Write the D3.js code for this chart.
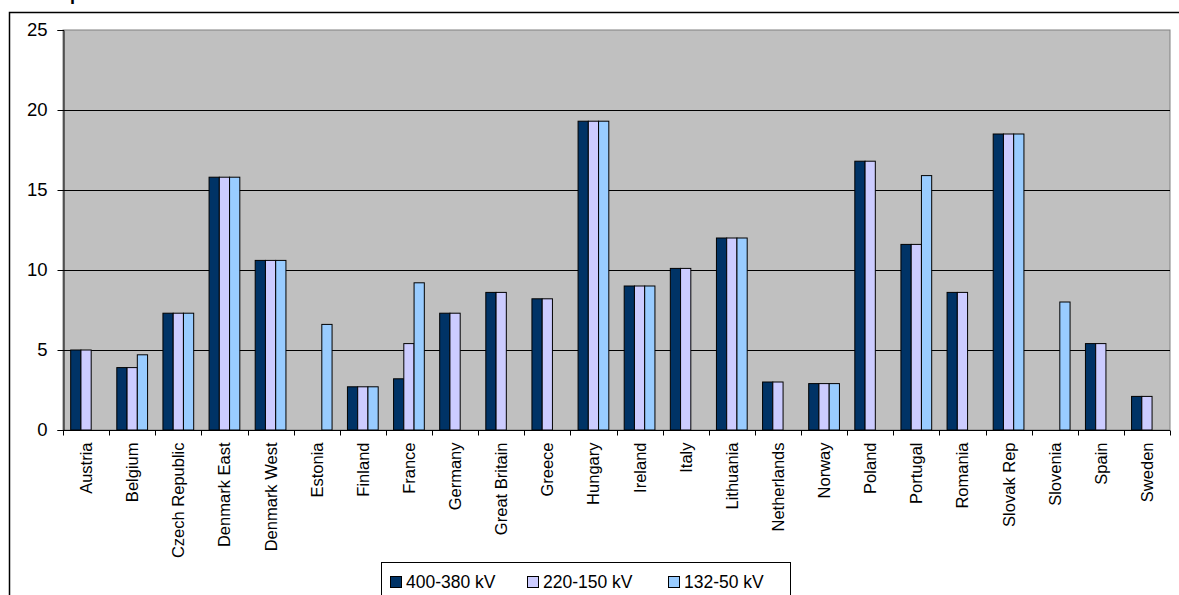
<!DOCTYPE html>
<html>
<head>
<meta charset="utf-8">
<script src="https://cdn.jsdelivr.net/npm/d3@7"></script>
<style>
  html, body { margin: 0; padding: 0; background: #fff; }
  svg { display: block; font-family: "Liberation Sans", Arial, sans-serif; }
</style>
</head>
<body>
<svg id="chart" width="1179" height="595"></svg>
<script>
// Countries along the category axis
const categories = ["Austria", "Belgium", "Czech Republic", "Denmark East", "Denmark West",
  "Estonia", "Finland", "France", "Germany", "Great Britain", "Greece", "Hungary", "Ireland",
  "Italy", "Lithuania", "Netherlands", "Norway", "Poland", "Portugal", "Romania", "Slovak Rep",
  "Slovenia", "Spain", "Sweden"];

// Voltage levels (series)
const seriesNames = ["400-380 kV", "220-150 kV", "132-50 kV"];

// Values per voltage level (null = no bar)
const values400 = [5.0, 3.9, 7.3, 15.8, 10.6, null, 2.7, 3.2, 7.3, 8.6, 8.2, 19.3, 9.0,
  10.1, 12.0, 3.0, 2.9, 16.8, 11.6, 8.6, 18.5, null, 5.4, 2.1];
const values220 = [5.0, 3.9, 7.3, 15.8, 10.6, null, 2.7, 5.4, 7.3, 8.6, 8.2, 19.3, 9.0,
  10.1, 12.0, 3.0, 2.9, 16.8, 11.6, 8.6, 18.5, null, 5.4, 2.1];
const values132 = [null, 4.7, 7.3, 15.8, 10.6, 6.6, 2.7, 9.2, null, null, null, 19.3, 9.0,
  null, 12.0, null, 2.9, null, 15.9, null, 18.5, 8.0, null, null];

// Value axis ticks
const yTicks = [0, 5, 10, 15, 20, 25];

const seriesColors = ["#003366", "#CCCCFF", "#99CCFF"];
const seriesValues = [values400, values220, values132];

const svg = d3.select("#chart");

// Chart title (runs off the top edge)
svg.append("text")
  .attr("x", 70).attr("y", 0)
  .attr("font-size", 18).attr("font-weight", "bold")
  .attr("fill", "#000")
  .text("p");

// Outer chart frame
svg.append("path")
  .attr("d", "M9.5,595 V12.5 H1179")
  .attr("fill", "none").attr("stroke", "#000").attr("stroke-width", 1.5);

const plot = { left: 63, right: 1170, top: 30, bottom: 430 };

const x = d3.scaleBand()
  .domain(categories)
  .range([plot.left, plot.right])
  .paddingInner(0).paddingOuter(0);

const step = x.step();
const x1 = d3.scaleBand()
  .domain(seriesNames)
  .range([step * 0.75 / 4.5, step * 3.75 / 4.5]);

const y = d3.scaleLinear().domain([0, 25]).range([plot.bottom, plot.top]);

// Plot background
svg.append("rect")
  .attr("x", plot.left).attr("y", plot.top)
  .attr("width", plot.right - plot.left).attr("height", plot.bottom - plot.top)
  .attr("fill", "#C0C0C0")
  .attr("stroke", "#808080").attr("stroke-width", 1);

// Gridlines
svg.append("g")
  .selectAll("line")
  .data(yTicks.filter(t => t > 0 && t < 25))
  .join("line")
  .attr("x1", plot.left).attr("x2", plot.right)
  .attr("y1", d => Math.round(y(d)) + 0.5).attr("y2", d => Math.round(y(d)) + 0.5)
  .attr("stroke", "#000").attr("stroke-width", 1);

// Bars
const barData = [];
categories.forEach((c, i) => {
  seriesNames.forEach((s, j) => {
    const v = seriesValues[j][i];
    if (v != null) barData.push({ c, s, v, color: seriesColors[j] });
  });
});

svg.append("g")
  .selectAll("rect")
  .data(barData)
  .join("rect")
  .attr("x", d => x(d.c) + x1(d.s))
  .attr("y", d => y(d.v))
  .attr("width", x1.bandwidth())
  .attr("height", d => y(0) - y(d.v))
  .attr("fill", d => d.color)
  .attr("stroke", "#000").attr("stroke-width", 1);

// Value axis
const yAxis = svg.append("g")
  .attr("transform", `translate(${plot.left + 0.5},0)`)
  .call(d3.axisLeft(y).tickValues(yTicks).tickSize(6).tickPadding(10));
yAxis.select(".domain").attr("stroke", "#000");
yAxis.selectAll(".tick line").attr("stroke", "#000");
yAxis.selectAll(".tick text")
  .attr("font-size", 18.5).attr("fill", "#000")
  .attr("font-family", "'Liberation Sans', Arial, sans-serif");

// Category axis
const xAxisG = svg.append("g")
  .attr("transform", `translate(0,${plot.bottom + 0.5})`);
xAxisG.append("line")
  .attr("x1", plot.left).attr("x2", plot.right)
  .attr("stroke", "#000");
xAxisG.selectAll("line.tick")
  .data(d3.range(categories.length + 1))
  .join("line")
  .attr("class", "tick")
  .attr("x1", i => Math.round(plot.left + i * step) + 0.5)
  .attr("x2", i => Math.round(plot.left + i * step) + 0.5)
  .attr("y1", 0).attr("y2", 5)
  .attr("stroke", "#000");
xAxisG.selectAll("text")
  .data(categories)
  .join("text")
  .attr("transform", d => `translate(${x(d) + step / 2 + 6},12) rotate(-90)`)
  .attr("text-anchor", "end")
  .attr("font-size", 16.5)
  .attr("fill", "#000")
  .text(d => d);

// Legend
const legend = svg.append("g");
legend.append("rect")
  .attr("x", 381.5).attr("y", 562.5)
  .attr("width", 409).attr("height", 50)
  .attr("fill", "#fff").attr("stroke", "#000");
const legendX = [390, 527, 668];
seriesNames.forEach((s, j) => {
  legend.append("rect")
    .attr("x", legendX[j] + 0.5).attr("y", 576.5)
    .attr("width", 11).attr("height", 11)
    .attr("fill", seriesColors[j]).attr("stroke", "#000");
  legend.append("text")
    .attr("x", legendX[j] + 16).attr("y", 587.5)
    .attr("font-size", 17.5).attr("fill", "#000")
    .text(s);
});
</script>
</body>
</html>
